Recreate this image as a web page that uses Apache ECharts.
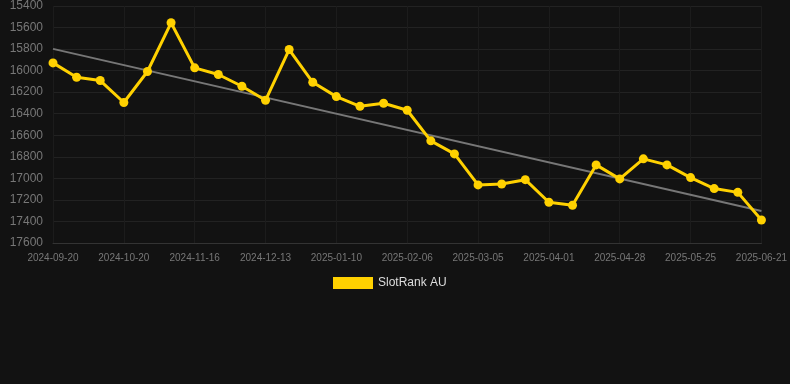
<!DOCTYPE html>
<html>
<head>
<meta charset="utf-8">
<script src="https://cdn.jsdelivr.net/npm/echarts@6/dist/echarts.min.js"></script>
<style>
  html, body { margin: 0; padding: 0; background: #121212; }
  #container { width: 790px; height: 384px; }
</style>
</head>
<body>
<div id="container"></div>
<script>
// dates on the x axis, one per rank reading
const dates = [
    '2024-09-20', '2024-09-30', '2024-10-10', '2024-10-20', '2024-10-29', '2024-11-07',
    '2024-11-16', '2024-11-25', '2024-12-04', '2024-12-13', '2024-12-22', '2024-12-31',
    '2025-01-10', '2025-01-19', '2025-01-28', '2025-02-06', '2025-02-15', '2025-02-24',
    '2025-03-05', '2025-03-14', '2025-03-23', '2025-04-01', '2025-04-10', '2025-04-19',
    '2025-04-28', '2025-05-07', '2025-05-16', '2025-05-25', '2025-06-03', '2025-06-12',
    '2025-06-21'
];
// SlotRank AU rank values
const rankAU = [
    15928, 16061, 16092, 16296, 16008, 15556,
    15974, 16036, 16145, 16275, 15804, 16108,
    16241, 16331, 16303, 16368, 16652, 16773,
    17061, 17052, 17012, 17222, 17250, 16875,
    17005, 16819, 16875, 16993, 17095, 17130,
    17386
];
// trend line end points (first and last date)
const trendStart = 15798;
const trendEnd = 17303;

let dom = document.getElementById("container");
let myChart = echarts.init(dom);

let option = {
    backgroundColor: '#121212',
    textStyle: { fontFamily: 'Liberation Sans, Arial, sans-serif' },
    animation: false,
    grid: { left: 53, right: 28, top: 6, bottom: 141 },
    legend: {
        data: ['SlotRank AU'],
        left: 328,
        top: 272,
        itemWidth: 40,
        itemHeight: 12,
        icon: 'rect',
        textStyle: { color: '#dddddd', fontSize: 12 }
    },
    xAxis: {
        type: 'category',
        data: dates,
        boundaryGap: false,
        axisLine: { lineStyle: { color: '#333' } },
        axisTick: { show: false },
        axisLabel: { interval: 2, color: '#777', fontSize: 10, margin: 10 },
        splitLine: { show: true, interval: 2, lineStyle: { color: '#1c1c1c' } }
    },
    yAxis: {
        type: 'value',
        inverse: true,
        min: 15400,
        max: 17600,
        interval: 200,
        axisLine: { show: false },
        axisTick: { show: false },
        axisLabel: { color: '#777', fontSize: 12, margin: 10, formatter: v => String(v) },
        splitLine: { lineStyle: { color: '#222' } }
    },
    series: [
        {
            name: 'Trend',
            type: 'line',
            data: [[dates[0], trendStart], [dates[dates.length - 1], trendEnd]],
            symbol: 'none',
            lineStyle: { color: '#777', width: 2 },
            silent: true,
            z: 1
        },
        {
            name: 'SlotRank AU',
            type: 'line',
            data: rankAU,
            symbol: 'circle',
            symbolSize: 9,
            itemStyle: { color: '#ffd100' },
            lineStyle: { color: '#ffd100', width: 3 },
            z: 2
        }
    ]
};
myChart.setOption(option);
</script>
</body>
</html>
